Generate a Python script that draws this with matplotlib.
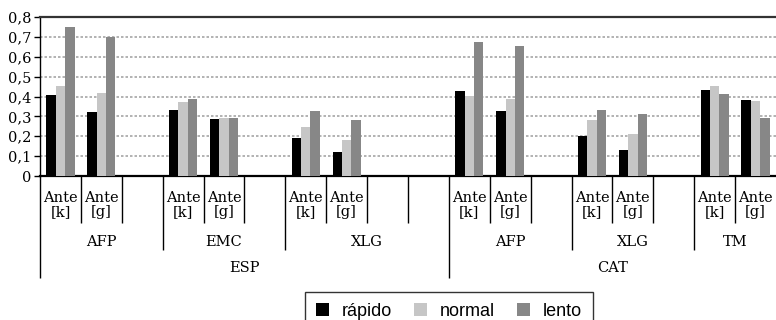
import matplotlib
matplotlib.use("Agg")
import matplotlib.pyplot as plt
from matplotlib.patches import Patch
from matplotlib.ticker import FuncFormatter
import matplotlib.transforms as mtransforms

# ---- data ----
series = ["rápido", "normal", "lento"]
colors = ["#000000", "#c6c6c6", "#878787"]

# 18 category slots (blank slots are empty spacers)
level1 = ["Ante\n[k]", "Ante\n[g]", "",
          "Ante\n[k]", "Ante\n[g]", "",
          "Ante\n[k]", "Ante\n[g]", "", "",
          "Ante\n[k]", "Ante\n[g]", "",
          "Ante\n[k]", "Ante\n[g]", "",
          "Ante\n[k]", "Ante\n[g]"]
level2 = [("AFP", 0, 3), ("EMC", 3, 3), ("XLG", 6, 4),
          ("AFP", 10, 3), ("XLG", 13, 3), ("TM", 16, 2)]
level3 = [("ESP", 0, 10), ("CAT", 10, 8)]

rapido = [0.41, 0.32, None, 0.33, 0.285, None, 0.19, 0.12, None, None,
          0.43, 0.325, None, 0.20, 0.13, None, 0.435, 0.38]
normal = [0.455, 0.42, None, 0.37, 0.29, None, 0.245, 0.18, None, None,
          0.405, 0.385, None, 0.28, 0.21, None, 0.455, 0.375]
lento = [0.75, 0.70, None, 0.385, 0.29, None, 0.325, 0.28, None, None,
         0.675, 0.655, None, 0.33, 0.31, None, 0.415, 0.29]
values = [rapido, normal, lento]

# ---- figure ----
fig = plt.figure(figsize=(7.76, 3.2), dpi=100)
ax = fig.add_axes([40 / 776, 1 - 176 / 320, 736 / 776, 159 / 320])

n = len(level1)
bw = 0.23
for k, (vals, col, name) in enumerate(zip(values, colors, series)):
    xs = [i + (k - 1) * bw for i, v in enumerate(vals) if v is not None]
    ys = [v for v in vals if v is not None]
    ax.bar(xs, ys, width=bw, color=col, edgecolor='none', zorder=3, label=name)

ax.set_xlim(-0.5, n - 0.5)
ax.set_ylim(0, 0.8)
ax.set_yticks([i / 10 for i in range(9)])
ax.yaxis.set_major_formatter(FuncFormatter(lambda v, p: ("%g" % round(v, 1)).replace(".", ",")))
ax.tick_params(axis='y', direction='out', length=4, width=1, pad=2,
               labelsize=10.5, labelfontfamily='DejaVu Serif')
ax.set_xticks([])

for y in [i / 10 for i in range(1, 8)]:
    ax.axhline(y, color="#a6a6a6", lw=1.2, linestyle=(0, (1.5, 1.2)), zorder=1)

ax.spines["right"].set_visible(False)
ax.spines["top"].set_color("#333333")
ax.spines["top"].set_linewidth(1.6)
ax.spines["left"].set_linewidth(1.0)
ax.spines["bottom"].set_linewidth(1.6)

# ---- multi-level category axis ----
trans = mtransforms.blended_transform_factory(ax.transData, ax.transAxes)
h = 159.0
d1, d2, d3 = -47 / h, -74 / h, -102 / h

lvl2_bounds = set()
for _, s, c in level2:
    lvl2_bounds.add(s)
lvl3_bounds = set()
for _, s, c in level3:
    lvl3_bounds.add(s)

for b in range(n):
    if b in lvl3_bounds:
        yb = d3
    elif b in lvl2_bounds:
        yb = d2
    else:
        yb = d1
    ax.plot([b - 0.5, b - 0.5], [0, yb], transform=trans, color="black",
            lw=1.0, clip_on=False, solid_capstyle='butt')

for i, lab in enumerate(level1):
    if lab:
        ax.text(i, -29 / h, lab, transform=trans, ha='center', va='center',
                fontsize=10.5, family='DejaVu Serif', linespacing=1.0)
for lab, s, c in level2:
    ax.text(s + c / 2 - 0.5, -66 / h, lab, transform=trans, ha='center',
            va='center', fontsize=10.5, family='DejaVu Serif')
for lab, s, c in level3:
    ax.text(s + c / 2 - 0.5, -92 / h, lab, transform=trans, ha='center',
            va='center', fontsize=10.5, family='DejaVu Serif')

handles = [Patch(facecolor=c, edgecolor='none', label=s) for c, s in zip(colors, series)]
leg = fig.legend(handles=handles, loc='upper center', ncol=3,
                 bbox_to_anchor=(449 / 776, 1 - 292 / 320),
                 prop={'family': 'Liberation Sans', 'size': 13},
                 frameon=True, fancybox=False, edgecolor='black',
                 handlelength=0.75, handleheight=0.75, handletextpad=0.7,
                 columnspacing=1.2, borderpad=0.6, borderaxespad=0)
leg.get_frame().set_linewidth(1.0)

fig.savefig("out.png", dpi=100)
